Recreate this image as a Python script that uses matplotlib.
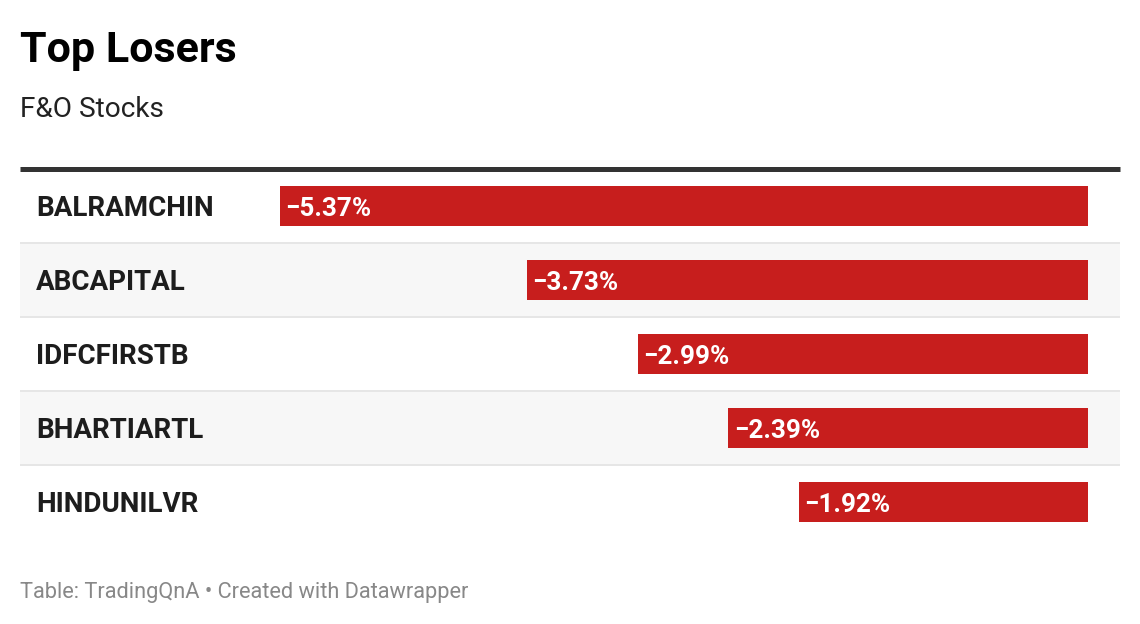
import matplotlib
matplotlib.use("Agg")
from matplotlib import pyplot as plt

# Data
tickers = ["BALRAMCHIN", "ABCAPITAL", "IDFCFIRSTB", "BHARTIARTL", "HINDUNILVR"]
changes = [-5.37, -3.73, -2.99, -2.39, -1.92]

title = "Top Losers"
subtitle = "F&O Stocks"
footer = "Table: TradingQnA \u2022 Created with Datawrapper"

# Layout (pixels)
W, H = 1140, 624
DPI = 100
pt = 72 / DPI  # px -> pt

left_px, right_px = 20, 1120
bar_zero_px, bar_min_px = 1088, 280
rows_top_px, row_h_px = 169, 74
bar_h_px = 40

red = "#c71e1d"
dark = "#1d1d1d"

plt.rcParams["font.family"] = ["Roboto", "DejaVu Sans"]

fig = plt.figure(figsize=(W / DPI, H / DPI), dpi=DPI)
fig.patch.set_facecolor("white")

n = len(tickers)
ax = fig.add_axes([left_px / W, 1 - (rows_top_px + n * row_h_px) / H,
                   (right_px - left_px) / W, n * row_h_px / H])

# value scale: most negative bar spans bar_min_px..bar_zero_px
px_per_unit = (bar_zero_px - bar_min_px) / abs(min(changes))
ax.set_xlim((left_px - bar_zero_px) / px_per_unit,
            (right_px - bar_zero_px) / px_per_unit)
ax.set_ylim(n - 0.5, -0.5)
ax.axis("off")

for i in range(n):
    if i % 2 == 1:
        ax.axhspan(i - 0.5, i + 0.5, color="#f7f7f7", lw=0, zorder=0)
    if i < n - 1:
        ax.axhline(i + 0.5, color="#e6e6e6", lw=2 * pt, zorder=1,
                   solid_capstyle="butt")

ax.barh(range(n), changes, left=0, height=bar_h_px / row_h_px,
        color=red, zorder=2)

# thick rule on top
ax.axhline(-0.5, color="#333333", lw=5 * pt, zorder=3, clip_on=False,
           solid_capstyle="butt")

cap_off = -9.5 * pt
for i, (t, v) in enumerate(zip(tickers, changes)):
    ax.annotate(t, xy=(16 / (right_px - left_px), i),
                xycoords=ax.get_yaxis_transform(),
                xytext=(0, cap_off), textcoords="offset points",
                ha="left", va="baseline", fontsize=27.7 * pt,
                fontweight="bold", color=dark)
    ax.annotate(f"\u2212{abs(v):.2f}%", xy=(v, i), xytext=(5.5 * pt, cap_off),
                textcoords="offset points", ha="left", va="baseline",
                fontsize=26 * pt, fontweight="bold", color="white", zorder=4)

fig.text(left_px / W, 1 - 62 / H, title, fontsize=43 * pt, fontweight="bold",
         color="black", ha="left", va="baseline")
fig.text(left_px / W, 1 - 117 / H, subtitle, fontsize=28 * pt,
         color="#222222", ha="left", va="baseline")
fig.text(left_px / W, 1 - 598 / H, footer, fontsize=21.8 * pt,
         color="#888888", ha="left", va="baseline")

fig.savefig("out.png", dpi=DPI)
